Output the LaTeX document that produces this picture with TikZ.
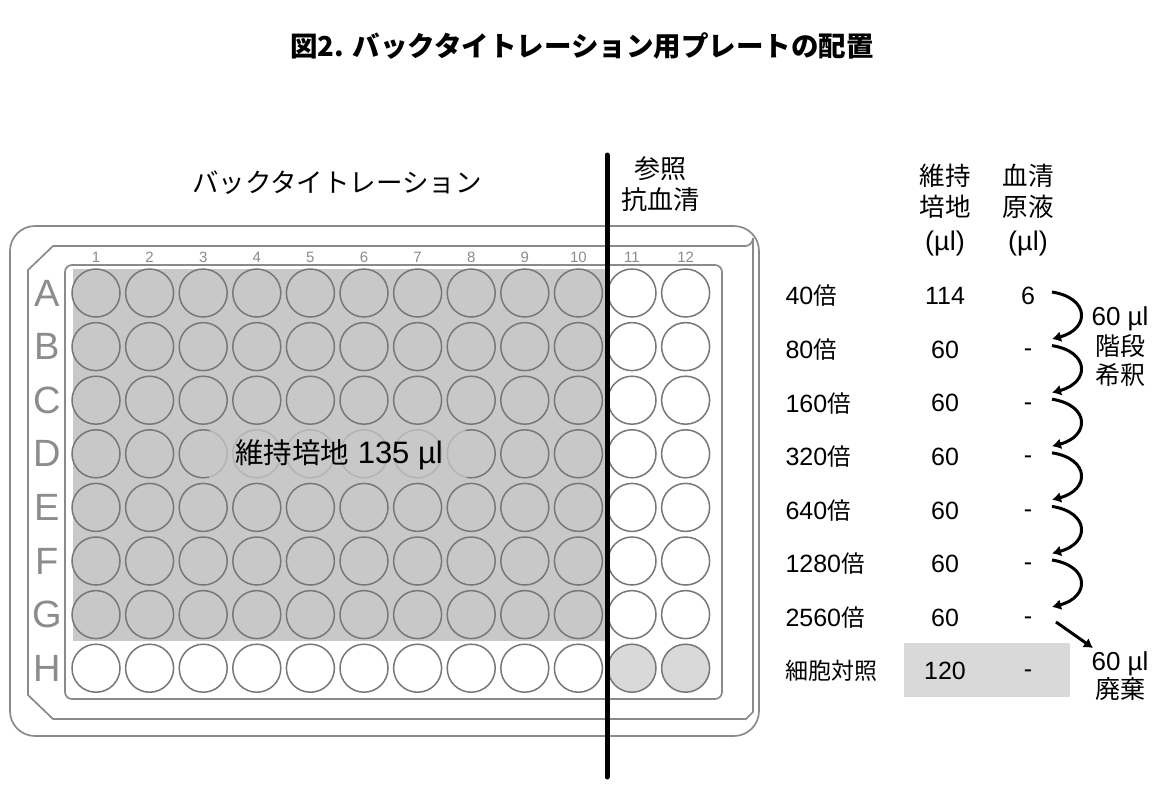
\documentclass[tikz,border=0pt]{standalone}
\usepackage{fontspec}
\setmainfont{Liberation Sans}
\newfontfamily\jp{Noto Sans CJK JP}
\usetikzlibrary{arrows.meta,calc}
\newcommand\Jf[2]{{\jp\fontsize{#1}{30}\selectfont #2}}
\newcommand\fs[2]{\fontsize{#1}{#2}\selectfont}
\definecolor{framegray}{HTML}{8A8A8A}
\definecolor{wellgray}{HTML}{777777}
\definecolor{fillgray}{HTML}{C8C8C8}
\definecolor{lightfill}{HTML}{D9D9D9}
\definecolor{labgray}{HTML}{8C8C8C}
\tikzset{
  frame/.style={draw=framegray, line width=1.7},
  well/.style={circle, draw=wellgray, line width=1.5, minimum size=48, inner sep=0},
  graywell/.style={well, fill=fillgray},
  whitewell/.style={well, fill=white},
  ctrlwell/.style={well, fill=lightfill},
  rowlab/.style={text=labgray, font=\fs{38}{40}},
  collab/.style={text=labgray, font=\fs{15}{16}},
  tab/.style={font=\fs{25}{28}},
  head/.style={font=\fs{27}{31.5}, align=center},
  curv/.style={line width=3, -{Latex[length=9, width=11]}},
}
\begin{document}
\begin{tikzpicture}[x=1pt, y=-1pt]
\useasboundingbox[fill=white] (0,0) rectangle (1153,807);
% title
\node[font=\fs{27.5}{30}\jp\bfseries] (title) at (582,46) {図2. バックタイトレーション用プレートの配置};
% plate frames
\draw[frame, rounded corners=25] (10,226) rectangle (759,736);
\draw[frame] (53,246) -- (745,246) arc[start angle=90, end angle=0, radius=8] -- (753,712) -- (746,719) -- (53,719) -- (28,695) -- (28,270) -- cycle;
\draw[frame, rounded corners=7] (65,265) rectangle (722,699);
% gray medium region
\fill[fillgray] (73,269) rectangle (606,641);
% wells
\foreach \r [count=\ri from 0] in {A,B,C,D,E,F,G,H} {
  \pgfmathsetmacro{\yy}{293+\ri*53.6}
  \node[rowlab] (row\r) at (47,\yy) {\r};
  \foreach \c in {1,...,12} {
    \pgfmathsetmacro{\xx}{96+(\c-1)*53.6}
    \ifnum\ri<7
      \ifnum\c<11
        \node[graywell] (w\r\c) at (\xx,\yy) {};
      \else
        \node[whitewell] (w\r\c) at (\xx,\yy) {};
      \fi
    \else
      \ifnum\c<11
        \node[whitewell] (w\r\c) at (\xx,\yy) {};
      \else
        \node[ctrlwell] (w\r\c) at (\xx,\yy) {};
      \fi
    \fi
  }
}
\foreach \c in {1,...,12} {
  \pgfmathsetmacro{\xx}{96+(\c-1)*53.6}
  \node[collab] (col\c) at (\xx,257) {\c};
}
% medium label
\fill[fillgray, opacity=0.75, rounded corners=8] (207,429) rectangle (469,480);
\node[font=\fs{31}{34}] (medium) at (339,455) {\Jf{28.5}{維持培地} 135 µl};
% divider
\draw[line width=5, line cap=round] (607,155) -- (607,777);
% headings
\node[font=\fs{26.5}{30}\jp] (bt) at (337,183) {バックタイトレーション};
\node[font=\fs{26}{31}\jp, align=center] (ref) at (660,184) {参照\\抗血清};
\node[head] (hmed) at (945,210) {\Jf{25.5}{維持}\\\Jf{25.5}{培地}\\[2pt](µl)};
\node[head] (hser) at (1028,210) {\Jf{25.5}{血清}\\\Jf{25.5}{原液}\\[2pt](µl)};
% table rows
\foreach \lab/\a/\b/\d [count=\i from 0] in {40/114/6/0, 80/60/-/3, 160/60/-/3, 320/60/-/3, 640/60/-/3, 1280/60/-/3, 2560/60/-/3} {
  \pgfmathsetmacro{\yy}{296+\i*53.6}
  \pgfmathsetmacro{\yd}{296+\i*53.6+\d}
  \node[tab, anchor=west] (lab\i) at (782,\yy) {\lab\Jf{23.5}{倍}};
  \node[tab] (med\i) at (945,\yy) {\a};
  \node[tab] (ser\i) at (1028,\yd) {\b};
}
\fill[lightfill] (904,643) rectangle (1070,697);
\node[tab, anchor=west] (labc) at (782,671) {\Jf{23}{細胞対照}};
\node[tab] (medc) at (945,671) {120};
\node[tab] (serc) at (1028,674) {-};
% arrows
\foreach \i in {0,...,5} {
  \pgfmathsetmacro{\ys}{292+\i*53.6}
  \pgfmathsetmacro{\ye}{339+\i*53.6}
  \coordinate (as\i) at (1052,\ys);
  \coordinate (ae\i) at (1052,\ye);
  \draw[curv] (as\i) .. controls ($(as\i)+(38,6)$) and ($(ae\i)+(38,-10)$) .. (ae\i);
}
\coordinate (ls) at (1056,622);
\coordinate (le) at (1093,648);
\draw[curv] (ls) -- (le);
\node[font=\fs{26}{29.5}, align=center] (step) at (1120,347) {60 µl\\\Jf{25}{階段}\\\Jf{25}{希釈}};
\node[font=\fs{26}{27.5}, align=center] (disc) at (1120,676) {60 µl\\\Jf{25}{廃棄}};
\end{tikzpicture}
\end{document}
